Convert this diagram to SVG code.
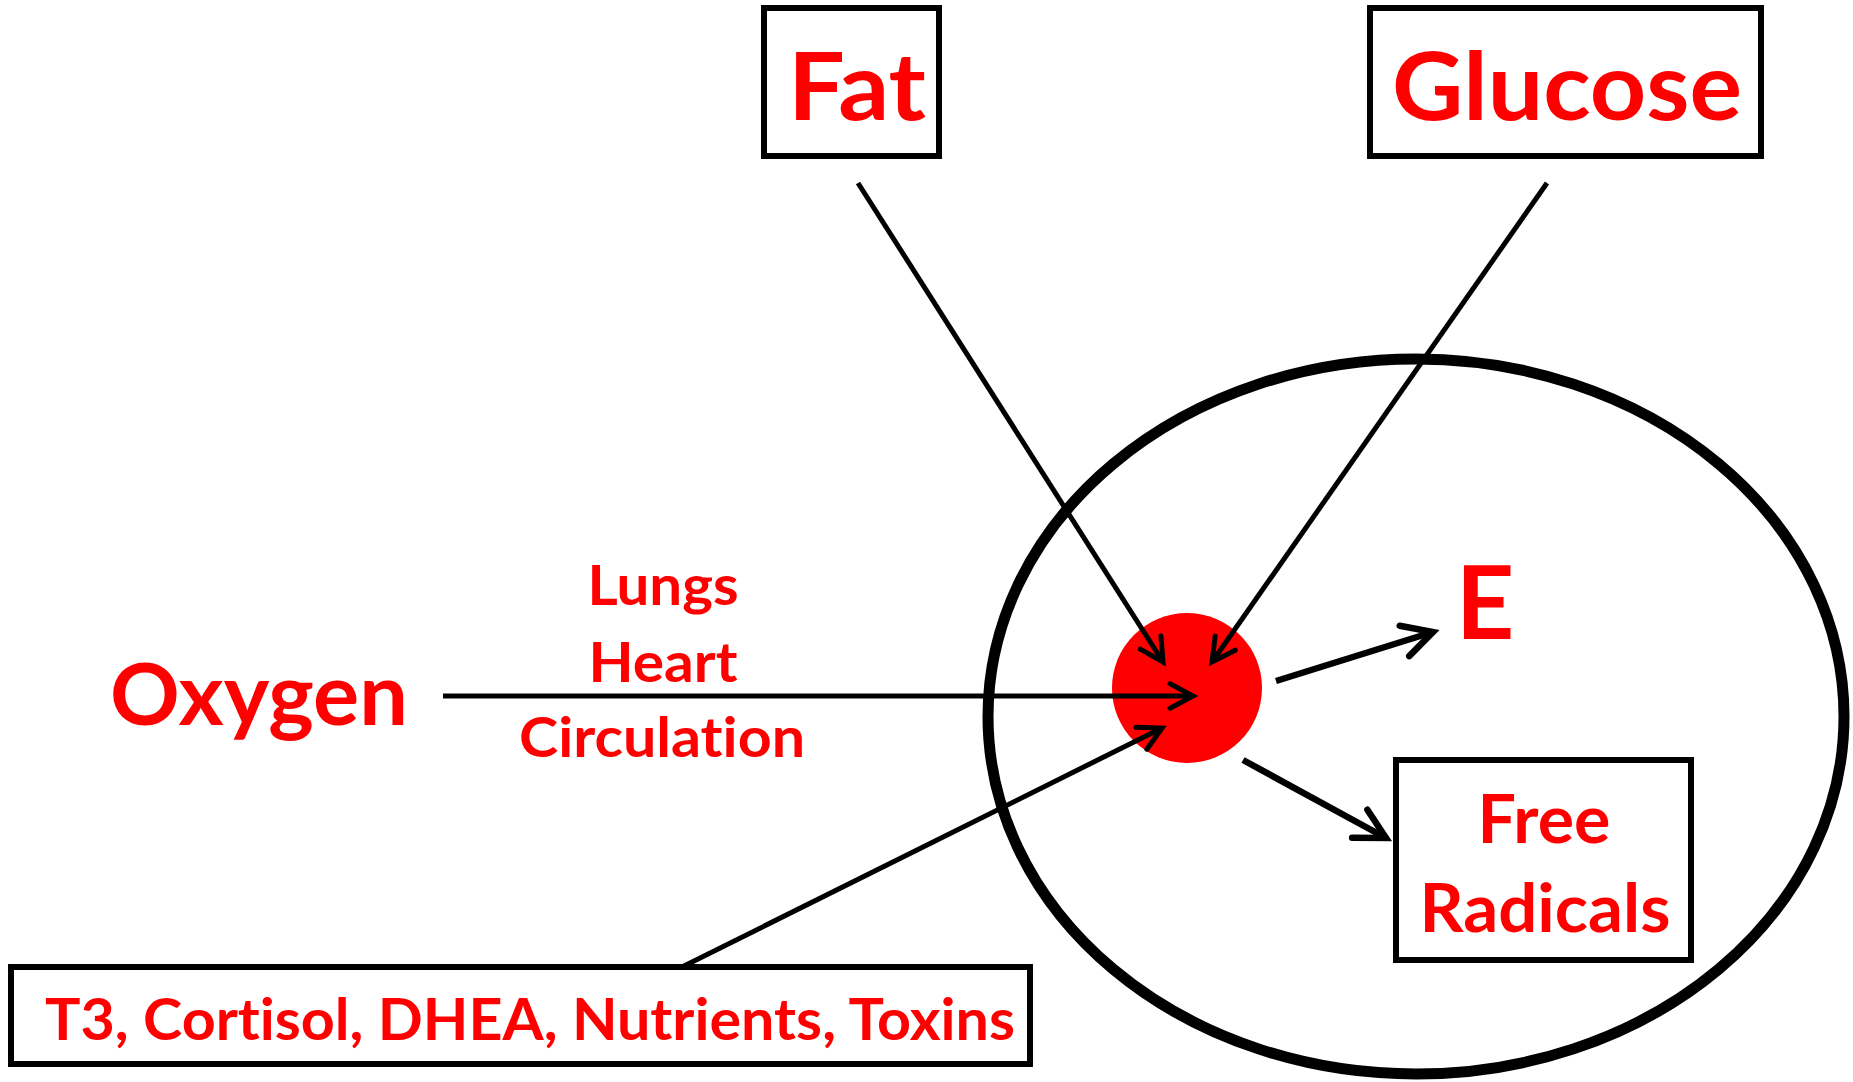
<svg xmlns="http://www.w3.org/2000/svg" width="1853" height="1082" viewBox="0 0 1853 1082">
<defs>
<style>
.box{fill:#fff;stroke:#000;stroke-width:6}
.lbl{font-family:Lato,"Open Sans","Liberation Sans",sans-serif;font-weight:bold;fill:#ff0000;text-anchor:middle;font-variant-ligatures:none;font-feature-settings:"liga" 0,"clig" 0}
.ln{fill:none;stroke:#000;stroke-width:5;stroke-linecap:butt;marker-end:url(#chev)}
.lnb{fill:none;stroke:#000;stroke-width:6.5;stroke-linecap:butt;marker-end:url(#chev)}
</style>
<marker id="chev" markerUnits="strokeWidth" markerWidth="12" markerHeight="12" refX="0" refY="0" orient="auto" overflow="visible" viewBox="-6 -6 12 12">
<path d="M -4.6 -2.45 L 0 0 L -4.6 2.45" fill="none" stroke="#000" stroke-width="1" stroke-linecap="round" stroke-linejoin="miter"/>
</marker>
</defs>
<rect width="1853" height="1082" fill="#fff"/>
<g id="cell">
<ellipse cx="1416" cy="716.5" rx="428" ry="357.5" fill="none" stroke="#000" stroke-width="11"/>
</g>
<g id="mito">
<circle cx="1187" cy="688" r="75" fill="#ff0000"/>
</g>
<g id="fat">
<rect class="box" x="764" y="8" width="175" height="148"/>
<text class="lbl" x="857" y="120" font-size="93" textLength="138" lengthAdjust="spacingAndGlyphs">Fat</text>
</g>
<g id="glucose">
<rect class="box" x="1370" y="8" width="391" height="148"/>
<text class="lbl" x="1567" y="120" font-size="93" textLength="350" lengthAdjust="spacingAndGlyphs">Glucose</text>
</g>
<g id="oxygen">
<text class="lbl" x="259" y="725" font-size="87" textLength="298" lengthAdjust="spacingAndGlyphs">Oxygen</text>
</g>
<g id="transport">
<text class="lbl" x="663" y="605" font-size="55" textLength="151" lengthAdjust="spacingAndGlyphs">Lungs</text>
<text class="lbl" x="663" y="682" font-size="55" textLength="149" lengthAdjust="spacingAndGlyphs">Heart</text>
<text class="lbl" x="662" y="757" font-size="55" textLength="286" lengthAdjust="spacingAndGlyphs">Circulation</text>
</g>
<g id="energy">
<text class="lbl" x="1485" y="639" font-size="102">E</text>
</g>
<g id="freeradicals">
<rect class="box" x="1396" y="760" width="295" height="200"/>
<text class="lbl" x="1544" y="843" font-size="66" textLength="133" lengthAdjust="spacingAndGlyphs">Free</text>
<text class="lbl" x="1545" y="932" font-size="67" textLength="251" lengthAdjust="spacingAndGlyphs">Radicals</text>
</g>
<g id="factors">
<rect class="box" x="11" y="967" width="1019" height="97"/>
<text class="lbl" x="530" y="1040" font-size="57" textLength="970" lengthAdjust="spacingAndGlyphs">T3, Cortisol, DHEA, Nutrients, Toxins</text>
</g>
<g id="connectors">
<line class="ln" x1="858" y1="183" x2="1163" y2="662"/>
<line class="ln" x1="1547" y1="183" x2="1212" y2="662"/>
<line class="ln" x1="443" y1="696" x2="1193" y2="696"/>
<line class="ln" x1="682" y1="967" x2="1162" y2="728"/>
<line class="lnb" x1="1276" y1="681" x2="1433" y2="632"/>
<line class="lnb" x1="1243" y1="760" x2="1386" y2="838"/>
</g>
</svg>
